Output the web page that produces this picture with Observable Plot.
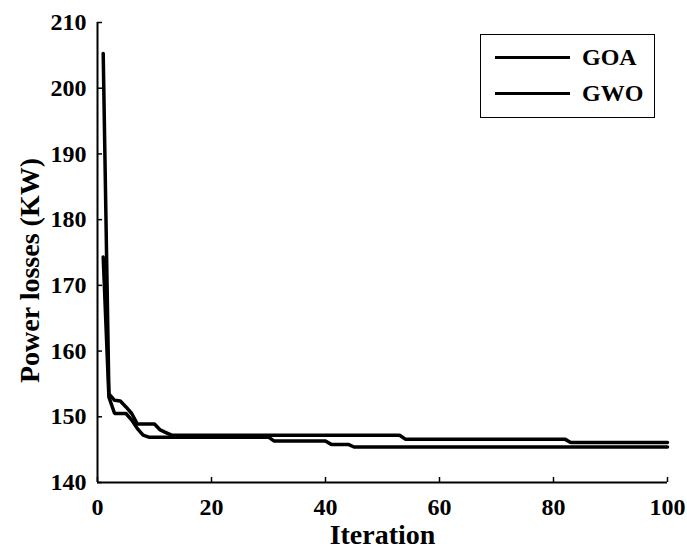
<!DOCTYPE html>
<html>
<head>
<meta charset="utf-8">
<script src="https://cdn.jsdelivr.net/npm/d3@7"></script>
<script src="https://cdn.jsdelivr.net/npm/@observablehq/plot@0.6"></script>
<style>
  html, body { margin: 0; padding: 0; background: #fff; }
  #wrap { position: relative; width: 687px; height: 553px; }
  #legend {
    position: absolute; left: 480px; top: 34px; width: 175px; height: 84px;
    border: 1.5px solid #000; background: #fff; box-sizing: border-box;
    font-family: "Liberation Serif", "Times New Roman", serif; font-weight: bold; font-size: 24px;
  }
  .row { position: absolute; left: 14px; display: flex; align-items: center; line-height: 26px; }
  .sw { width: 75px; height: 0; border-top: 3.5px solid #000; margin-right: 12px; }
  svg text.ticklbl { font-size: 24px !important; font-weight: bold !important; }
</style>
</head>
<body>
<div id="wrap"></div>
<script>
const seriesNames = ["GOA", "GWO"];
const iterations = d3.range(1, 101);
const goaValues = [
  205.3, 153.5, 152.5, 152.4, 151.5, 150.5, 148.9, 148.9, 148.9, 148.9,
  148.0, 147.6, 147.2, 147.2, 147.2, 147.2, 147.2, 147.2, 147.2, 147.2,
  147.2, 147.2, 147.2, 147.2, 147.2, 147.2, 147.2, 147.2, 147.2, 147.2,
  147.2, 147.2, 147.2, 147.2, 147.2, 147.2, 147.2, 147.2, 147.2, 147.2,
  147.2, 147.2, 147.2, 147.2, 147.2, 147.2, 147.2, 147.2, 147.2, 147.2,
  147.2, 147.2, 147.2, 146.6, 146.6, 146.6, 146.6, 146.6, 146.6, 146.6,
  146.6, 146.6, 146.6, 146.6, 146.6, 146.6, 146.6, 146.6, 146.6, 146.6,
  146.6, 146.6, 146.6, 146.6, 146.6, 146.6, 146.6, 146.6, 146.6, 146.6,
  146.6, 146.6, 146.1, 146.1, 146.1, 146.1, 146.1, 146.1, 146.1, 146.1,
  146.1, 146.1, 146.1, 146.1, 146.1, 146.1, 146.1, 146.1, 146.1, 146.1
];
const gwoValues = [
  174.3, 153.0, 150.5, 150.5, 150.5, 149.5, 148.2, 147.2, 146.9, 146.9,
  146.9, 146.9, 146.9, 146.9, 146.9, 146.9, 146.9, 146.9, 146.9, 146.9,
  146.9, 146.9, 146.9, 146.9, 146.9, 146.9, 146.9, 146.9, 146.9, 146.9,
  146.3, 146.3, 146.3, 146.3, 146.3, 146.3, 146.3, 146.3, 146.3, 146.3,
  145.8, 145.8, 145.8, 145.8, 145.4, 145.4, 145.4, 145.4, 145.4, 145.4,
  145.4, 145.4, 145.4, 145.4, 145.4, 145.4, 145.4, 145.4, 145.4, 145.4,
  145.4, 145.4, 145.4, 145.4, 145.4, 145.4, 145.4, 145.4, 145.4, 145.4,
  145.4, 145.4, 145.4, 145.4, 145.4, 145.4, 145.4, 145.4, 145.4, 145.4,
  145.4, 145.4, 145.4, 145.4, 145.4, 145.4, 145.4, 145.4, 145.4, 145.4,
  145.4, 145.4, 145.4, 145.4, 145.4, 145.4, 145.4, 145.4, 145.4, 145.4
];
const xTicks = [0, 20, 40, 60, 80, 100];
const yTicks = [140, 150, 160, 170, 180, 190, 200, 210];
const xLabel = "Iteration";
const yLabel = "Power losses (KW)";

const data = [];
iterations.forEach((it, i) => {
  data.push({series: seriesNames[0], iter: it, value: goaValues[i]});
  data.push({series: seriesNames[1], iter: it, value: gwoValues[i]});
});

const font = '"Liberation Serif", "Times New Roman", serif';

const chart = Plot.plot({
  width: 687,
  height: 553,
  marginLeft: 97,
  marginRight: 20,
  marginTop: 22,
  marginBottom: 71,
  style: {fontFamily: font, fontWeight: "bold", fontSize: "24px", color: "#000", background: "#fff"},
  x: {domain: [xTicks[0], xTicks[xTicks.length - 1]]},
  y: {domain: [yTicks[0], yTicks[yTicks.length - 1]]},
  marks: [
    Plot.axisX({ticks: xTicks, tickSize: -5, tickPadding: 20, strokeWidth: 1.5, label: null}),
    Plot.axisY({ticks: yTicks, tickSize: -5, tickPadding: 16, strokeWidth: 1.5, label: null}),
    Plot.ruleX([xTicks[0]], {strokeWidth: 2}),
    Plot.ruleY([yTicks[0]], {strokeWidth: 2}),
    Plot.line(data, {x: "iter", y: "value", z: "series", stroke: "#000", strokeWidth: 3.5, strokeLinejoin: "miter"}),
    Plot.text([xLabel], {frameAnchor: "bottom", dy: 61, fontSize: 28, fontWeight: "bold"}),
    Plot.text([yLabel], {frameAnchor: "left", textAnchor: "middle", rotate: -90, dx: -67, dy: 18, fontSize: 28, fontWeight: "bold"})
  ]
});
const wrap = document.getElementById("wrap");
wrap.appendChild(chart);

// enlarge axis tick labels (numeric texts)
d3.select(chart).selectAll("text").each(function () {
  const t = this.textContent.trim();
  if (/^\d+$/.test(t)) {
    this.classList.add("ticklbl");
    this.setAttribute("font-size", "24");
    this.setAttribute("font-weight", "bold");
  }
});

const legend = document.createElement("div");
legend.id = "legend";
seriesNames.forEach((name, i) => {
  const row = document.createElement("div");
  row.className = "row";
  row.style.top = (i === 0 ? 9 : 45) + "px";
  row.innerHTML = '<span class="sw"></span><span>' + name + '</span>';
  legend.appendChild(row);
});
wrap.appendChild(legend);
</script>
</body>
</html>
